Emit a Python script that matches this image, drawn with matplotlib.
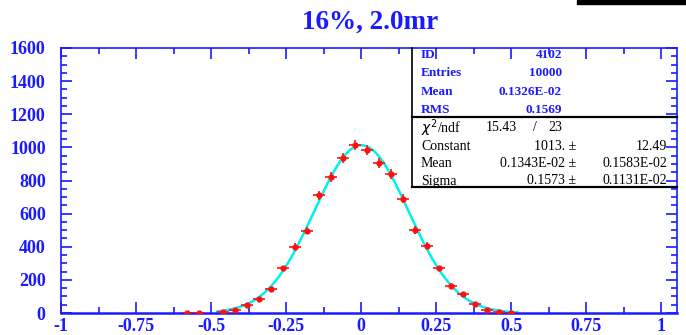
import matplotlib
matplotlib.use('Agg')
import matplotlib.pyplot as plt
import numpy as np

# histogram bin centres and contents
binCentres = [-0.58, -0.54, -0.46, -0.42, -0.38, -0.34, -0.30, -0.26, -0.22, -0.18,
              -0.14, -0.10, -0.06, -0.02, 0.02, 0.06, 0.10, 0.14, 0.18, 0.22,
              0.26, 0.30, 0.34, 0.38, 0.42, 0.46, 0.50]
binCounts = [1, 2, 5, 20, 48, 85, 143, 270, 400, 497,
             711, 821, 935, 1013, 985, 908, 838, 691, 501, 407,
             270, 166, 115, 56, 18, 8, 3]
binHalfWidth = 0.02

# gaussian fit parameters as printed in the stats box
fitConstant = 1013.
fitMean = 0.1343E-02
fitSigma = 0.1573
fitRange = [-0.48, 0.52]

title = '16%, 2.0mr'
xTicks = [-1, -0.75, -0.5, -0.25, 0, 0.25, 0.5, 0.75, 1]
xTickLabels = ['-1', '-0.75', '-0.5', '-0.25', '0', '0.25', '0.5', '0.75', '1']
yTicks = [0, 200, 400, 600, 800, 1000, 1200, 1400, 1600]

statLabels = ['ID', 'Entries', 'Mean', 'RMS']
statValues = ['4102', '10000', '0.1326E-02', '0.1569']
fitLabels = ['Constant', 'Mean', 'Sigma']
fitValues = ['1013.', '0.1343E-02', '0.1573']
fitErrors = ['12.49', '0.1583E-02', '0.1131E-02']
chi2Text = ['15.43', '/', '23']

W, H = 686, 335
blue = '#1a1aff'
serif = ['Liberation Serif', 'DejaVu Serif']

fig = plt.figure(figsize=(W / 100, H / 100), dpi=100)
ax = fig.add_axes([61 / W, 22 / H, 616 / W, 265 / H])

# fit curve
xs = np.linspace(fitRange[0], fitRange[1], 300)
ax.plot(xs, fitConstant * np.exp(-0.5 * ((xs - fitMean) / fitSigma) ** 2),
        color='#00f0f0', lw=1.8, zorder=2)

# histogram points
counts = np.array(binCounts, dtype=float)
ax.errorbar(binCentres, counts, xerr=binHalfWidth, yerr=np.sqrt(counts),
            fmt='o', color='#ff1010', ms=3.5, elinewidth=1.2, capsize=0, zorder=3)

ax.set_xlim(-1, 1.0533)
ax.set_ylim(0, 1600)

ax.set_xticks(xTicks)
ax.set_xticklabels(xTickLabels)
ax.set_xticks(np.arange(-1, 1.05, 0.125), minor=True)
ax.set_yticks(yTicks)
ax.set_yticks(np.arange(0, 1601, 50), minor=True)

ax.tick_params(which='both', direction='in', top=True, right=True, colors=blue,
               width=1.2, labelcolor=blue)
ax.tick_params(which='major', length=8)
ax.tick_params(which='minor', length=4.5)
ax.tick_params(axis='x', which='major', pad=3.5)
ax.tick_params(axis='y', which='major', pad=11)
for lab in ax.get_xticklabels():
    lab.set_fontfamily(serif)
    lab.set_fontweight('bold')
    lab.set_fontsize(13)
for lab in ax.get_yticklabels():
    lab.set_fontfamily(serif)
    lab.set_fontweight('bold')
    lab.set_fontsize(13)
for sp in ax.spines.values():
    sp.set_color(blue)
    sp.set_linewidth(1.2)
ax.spines['bottom'].set_linewidth(1.8)

fig.text(370 / W, 1 - 22 / H, title, ha='center', va='center', color=blue,
         fontsize=19.5, fontweight='bold', family=serif)

# black bar in the top right corner
fig.patches.append(matplotlib.patches.Rectangle((577 / W, 1 - 4 / H), 109 / W, 4 / H,
                   transform=fig.transFigure, color='black'))

# stats box
def fx(px):
    return px / W

def fy(py):
    return 1 - py / H

boxLeft, boxRight, boxTop, boxMid, boxBottom = 412, 677, 48, 117, 187
fig.add_artist(plt.Line2D([fx(boxLeft), fx(boxLeft)], [fy(boxTop), fy(boxBottom)],
                          color='black', lw=1.2))
fig.add_artist(plt.Line2D([fx(boxLeft), fx(boxRight)], [fy(boxMid), fy(boxMid)],
                          color='black', lw=1.6))
fig.add_artist(plt.Line2D([fx(boxLeft), fx(boxRight)], [fy(boxBottom), fy(boxBottom)],
                          color='black', lw=1.6))

statRows = [55, 73, 92, 110]
for i in range(len(statLabels)):
    fig.text(fx(421), fy(statRows[i]), statLabels[i], ha='left', va='center',
             color=blue, fontsize=9.5, fontweight='bold', family=serif)
    fig.text(fx(562), fy(statRows[i]), statValues[i], ha='right', va='center',
             color=blue, fontsize=9.5, fontweight='bold', family=serif)

fig.text(fx(421), fy(128), r'$\chi^2$/ndf', ha='left', va='center', color='black',
         fontsize=10, family=serif)
fig.text(fx(517), fy(128), chi2Text[0], ha='right', va='center', color='black',
         fontsize=10, family=serif)
fig.text(fx(535), fy(128), chi2Text[1], ha='center', va='center', color='black',
         fontsize=10, family=serif)
fig.text(fx(562), fy(128), chi2Text[2], ha='right', va='center', color='black',
         fontsize=10, family=serif)

fitRows = [146, 164, 181]
for i in range(len(fitLabels)):
    fig.text(fx(421), fy(fitRows[i]), fitLabels[i], ha='left', va='center',
             color='black', fontsize=10, family=serif)
    fig.text(fx(576), fy(fitRows[i]), fitValues[i] + ' \u00b1', ha='right', va='center',
             color='black', fontsize=10, family=serif)
    fig.text(fx(667), fy(fitRows[i]), fitErrors[i], ha='right', va='center',
             color='black', fontsize=10, family=serif)

fig.savefig('out.png', dpi=100)
